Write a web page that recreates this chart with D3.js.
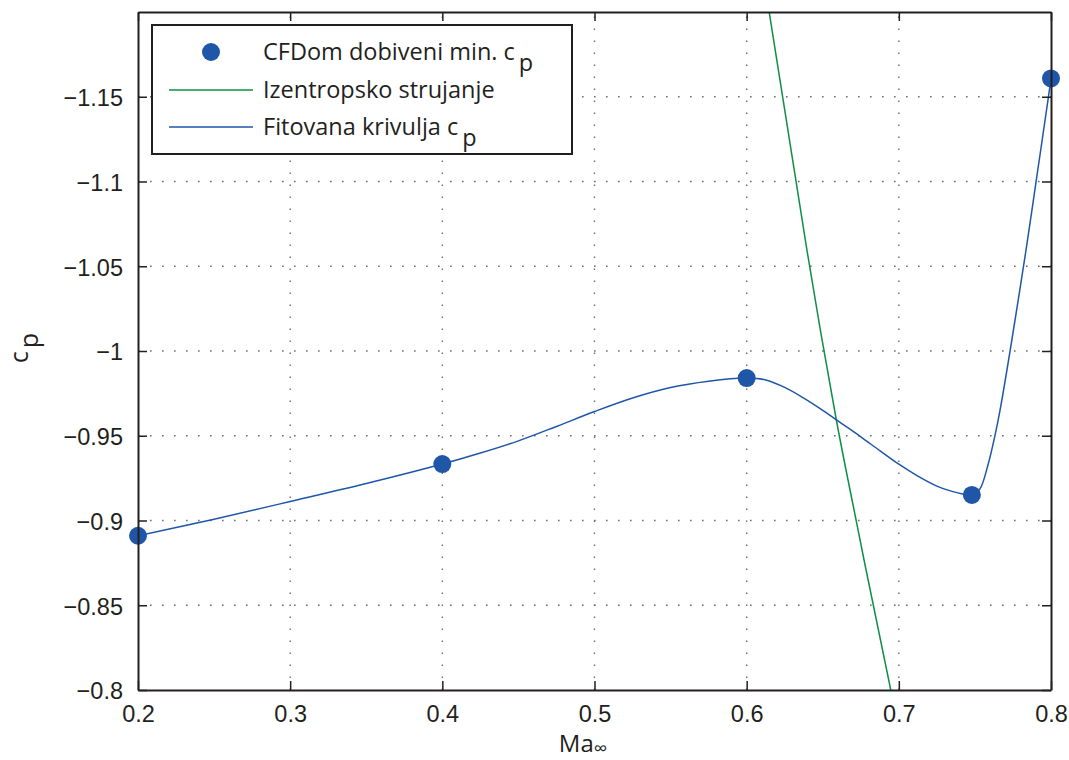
<!DOCTYPE html>
<html><head><meta charset="utf-8">
<script src="https://cdn.jsdelivr.net/npm/d3@7"></script>
<style>
body{margin:0;background:#fff;}
svg{display:block;font-family:"Open Sans","Noto Sans",sans-serif;}
</style></head>
<body><svg id="c" width="1069" height="760"></svg>
<script>
// ---- data ----
const xTicks = [0.2, 0.3, 0.4, 0.5, 0.6, 0.7, 0.8];
const yTicks = [-0.8, -0.85, -0.9, -0.95, -1, -1.05, -1.1, -1.15];
const cfdMach = [0.2, 0.4, 0.6, 0.748, 0.8];
const cfdCp = [-0.891, -0.9333, -0.984, -0.9151, -1.1608];
const fitMach = [0.2, 0.25, 0.3, 0.35, 0.4, 0.425, 0.45, 0.475, 0.5, 0.525, 0.55, 0.575, 0.6, 0.6125, 0.625, 0.6375, 0.65, 0.6625, 0.675, 0.6875, 0.7, 0.7125, 0.725, 0.7302, 0.7412, 0.748, 0.7532, 0.7587, 0.7631, 0.7664, 0.7834, 0.79, 0.7981, 0.8];
const fitCp = [-0.891, -0.9008, -0.9112, -0.9218, -0.9333, -0.9398, -0.947, -0.9555, -0.9643, -0.9723, -0.9785, -0.9822, -0.984, -0.9829, -0.9785, -0.9722, -0.965, -0.9572, -0.9494, -0.9412, -0.9332, -0.9262, -0.9203, -0.9185, -0.9158, -0.9151, -0.9185, -0.9332, -0.9498, -0.9645, -1.0585, -1.0987, -1.1486, -1.1608];
const isoMach = [0.6148, 0.6398, 0.6486, 0.659, 0.6733, 0.6772, 0.6947];
const isoCp = [-1.2, -1.0585, -1.0115, -0.959, -0.894, -0.8764, -0.8];
const legendLabels = ["CFDom dobiveni min. c", "Izentropsko strujanje", "Fitovana krivulja c"];

const blue = "#1f56a8", green = "#0f8f45", axisCol = "#231f20";
const L = 138, R = 1051, T = 12, B = 690;
const FS = 23.5;
const svg = d3.select("#c");
const x = d3.scaleLinear().domain([0.2, 0.8]).range([L, R]);
const y = d3.scaleLinear().domain([-0.8, -1.2]).range([B, T]);

// grid
const grid = svg.append("g").attr("stroke", "#6d6d6d").attr("stroke-width", 1.4).attr("stroke-dasharray", "1.6,10.4");
grid.selectAll("line.v").data(xTicks.slice(1, -1)).join("line")
  .attr("x1", d => x(d)).attr("x2", d => x(d)).attr("y1", B).attr("y2", T);
grid.selectAll("line.h").data(yTicks.slice(1)).join("line")
  .attr("y1", d => y(d)).attr("y2", d => y(d)).attr("x1", L).attr("x2", R);

// clip
svg.append("clipPath").attr("id", "clip").append("rect").attr("x", L).attr("y", T).attr("width", R - L).attr("height", B - T);

const isoLine = d3.line().x(d => x(d[0])).y(d => y(d[1])).curve(d3.curveMonotoneX);
const fitLine = d3.line().x(d => x(d[0])).y(d => y(d[1])).curve(d3.curveCatmullRom.alpha(0.5));
svg.append("path").attr("clip-path", "url(#clip)")
  .attr("d", isoLine(isoMach.map((m, i) => [m, isoCp[i]])))
  .attr("fill", "none").attr("stroke", green).attr("stroke-width", 1.5);
svg.append("path").attr("clip-path", "url(#clip)")
  .attr("d", fitLine(fitMach.map((m, i) => [m, fitCp[i]])))
  .attr("fill", "none").attr("stroke", blue).attr("stroke-width", 1.5);

svg.append("g").selectAll("circle").data(cfdMach.map((m, i) => [m, cfdCp[i]])).join("circle")
  .attr("cx", d => x(d[0])).attr("cy", d => y(d[1])).attr("r", 9).attr("fill", blue);

// axes
const fmt = d => (d < 0 ? "\u2212" : "") + String(Math.abs(d));
const xAxisB = d3.axisBottom(x).tickValues(xTicks).tickSizeInner(-9).tickSizeOuter(0).tickPadding(15).tickFormat(d => String(d));
const xAxisT = d3.axisTop(x).tickValues(xTicks).tickSizeInner(-9).tickSizeOuter(0).tickFormat("");
const yAxisL = d3.axisLeft(y).tickValues(yTicks).tickSizeInner(-9).tickSizeOuter(0).tickPadding(15).tickFormat(fmt);
const yAxisR = d3.axisRight(y).tickValues(yTicks).tickSizeInner(-9).tickSizeOuter(0).tickFormat("");
function style(g) {
  g.select(".domain").attr("stroke", axisCol).attr("stroke-width", 2);
  g.selectAll(".tick line").attr("stroke", axisCol).attr("stroke-width", 1.5);
  g.selectAll(".tick text").attr("fill", axisCol).attr("font-size", FS).attr("font-family", null);
}
svg.append("g").attr("transform", `translate(0,${B})`).call(xAxisB).call(style);
svg.append("g").attr("transform", `translate(0,${T})`).call(xAxisT).call(style);
svg.append("g").attr("transform", `translate(${L},0)`).call(yAxisL).call(style)
  .selectAll(".tick text").attr("dy", "0.38em");
svg.append("g").attr("transform", `translate(${R},0)`).call(yAxisR).call(style);

// axis labels
const xl = svg.append("text").attr("x", 583).attr("y", 752).attr("text-anchor", "middle")
  .attr("font-size", 24).attr("fill", axisCol);
xl.append("tspan").text("Ma");
xl.append("tspan").attr("dy", 3).attr("font-size", 19).text("\u221E");
const yl = svg.append("text").attr("transform", "translate(28,348) rotate(-90)").attr("text-anchor", "middle")
  .attr("font-size", 25).attr("fill", axisCol);
yl.append("tspan").text("c");
yl.append("tspan").attr("dy", 10).attr("dx", 3).text("p");

// legend
const lg = svg.append("g");
lg.append("rect").attr("x", 152).attr("y", 25).attr("width", 420).attr("height", 129)
  .attr("fill", "#fff").attr("stroke", axisCol).attr("stroke-width", 2);
const rows = [52, 90, 127];
lg.append("circle").attr("cx", 211).attr("cy", rows[0]).attr("r", 9).attr("fill", blue);
lg.append("line").attr("x1", 169).attr("x2", 253).attr("y1", rows[1]).attr("y2", rows[1]).attr("stroke", green).attr("stroke-width", 1.5);
lg.append("line").attr("x1", 169).attr("x2", 253).attr("y1", rows[2]).attr("y2", rows[2]).attr("stroke", blue).attr("stroke-width", 1.5);
legendLabels.forEach((t, i) => {
  const tx = lg.append("text").attr("x", 263).attr("y", rows[i] + 8).attr("font-size", FS).attr("fill", axisCol);
  tx.append("tspan").text(t);
  if (i !== 1) tx.append("tspan").attr("dx", 4).attr("dy", 11).text("p");
});
</script></body></html>
